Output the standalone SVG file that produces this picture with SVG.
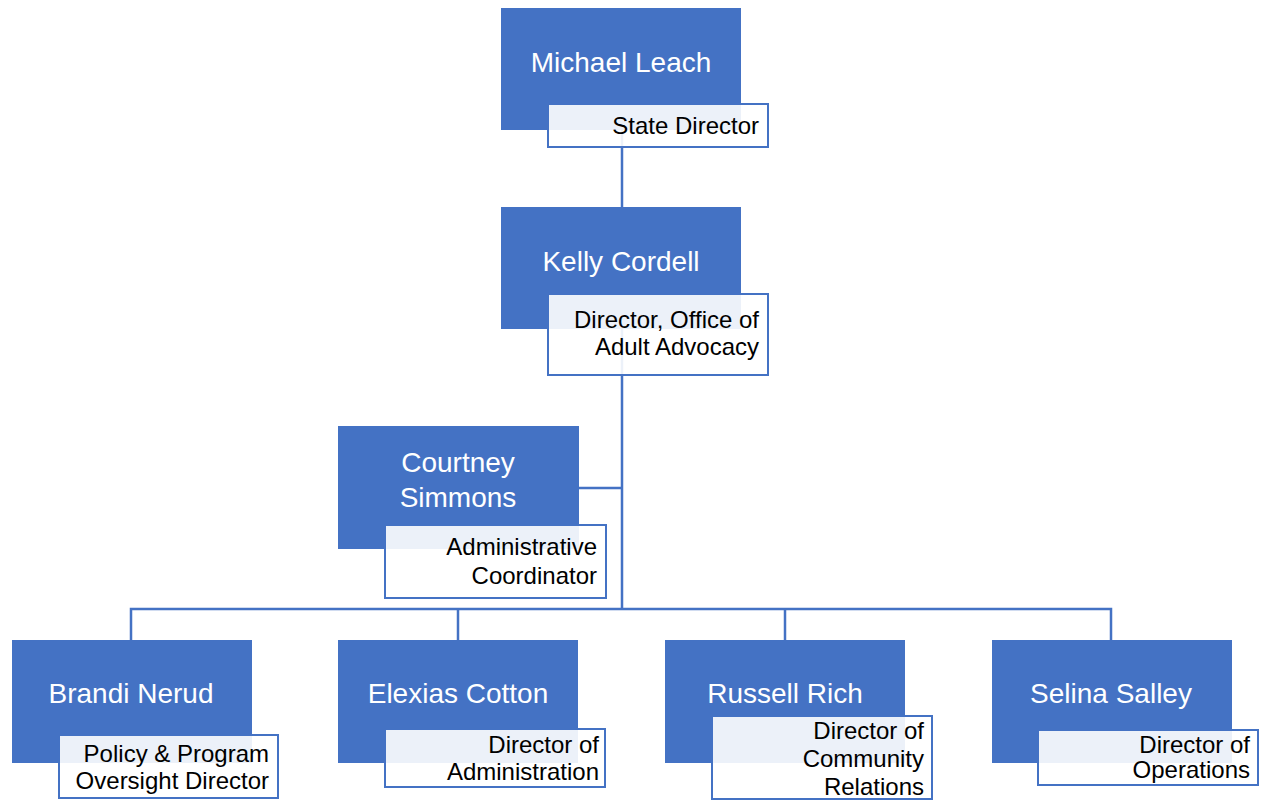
<svg xmlns="http://www.w3.org/2000/svg" width="1261" height="801" viewBox="0 0 1261 801">
<style>
.box{fill:#4472C4}
.lbl{fill:#FFFFFF;fill-opacity:0.9;stroke:#4472C4;stroke-width:2}
.name{font-family:"Liberation Sans",Arial,sans-serif;font-size:28px;fill:#FFFFFF;text-anchor:middle}
.title{font-family:"Liberation Sans",Arial,sans-serif;font-size:24px;fill:#000000;text-anchor:end}
.conn{stroke:#4472C4;stroke-width:2.5;fill:none}
</style>
<rect width="1261" height="801" fill="#FFFFFF"/>
<g id="connectors">
<line class="conn" x1="622" y1="130" x2="622" y2="207"/>
<line class="conn" x1="622" y1="329" x2="622" y2="609"/>
<line class="conn" x1="579" y1="488" x2="622" y2="488"/>
<polyline class="conn" points="131,640 131,609 1111,609 1111,640"/>
<line class="conn" x1="458" y1="609" x2="458" y2="640"/>
<line class="conn" x1="785" y1="609" x2="785" y2="640"/>
</g>
<g id="michael-leach">
<rect class="box" x="501" y="8" width="240" height="122"/>
<text class="name" x="621" y="72">Michael Leach</text>
<rect class="lbl" x="548" y="104" width="220" height="43"/>
<text class="title" x="759" y="134">State Director</text>
</g>
<g id="kelly-cordell">
<rect class="box" x="501" y="207" width="240" height="122"/>
<text class="name" x="621" y="271">Kelly Cordell</text>
<rect class="lbl" x="548" y="294" width="220" height="81"/>
<text class="title" x="759" y="328">Director, Office of</text>
<text class="title" x="759" y="355">Adult Advocacy</text>
</g>
<g id="courtney-simmons">
<rect class="box" x="338" y="426" width="241" height="123"/>
<text class="name" x="458" y="472">Courtney</text>
<text class="name" x="458" y="507">Simmons</text>
<rect class="lbl" x="385" y="525" width="221" height="73"/>
<text class="title" x="597" y="555">Administrative</text>
<text class="title" x="597" y="584">Coordinator</text>
</g>
<g id="brandi-nerud">
<rect class="box" x="12" y="640" width="240" height="123"/>
<text class="name" x="131" y="703">Brandi Nerud</text>
<rect class="lbl" x="59" y="735" width="219" height="63"/>
<text class="title" x="269" y="762">Policy &amp; Program</text>
<text class="title" x="269" y="789">Oversight Director</text>
</g>
<g id="elexias-cotton">
<rect class="box" x="338" y="640" width="240" height="123"/>
<text class="name" x="458" y="703">Elexias Cotton</text>
<rect class="lbl" x="385" y="729" width="220" height="58"/>
<text class="title" x="599" y="753">Director of</text>
<text class="title" x="599" y="780">Administration</text>
</g>
<g id="russell-rich">
<rect class="box" x="665" y="640" width="240" height="123"/>
<text class="name" x="785" y="703">Russell Rich</text>
<rect class="lbl" x="712" y="716" width="220" height="83"/>
<text class="title" x="924" y="739">Director of</text>
<text class="title" x="924" y="767">Community</text>
<text class="title" x="924" y="795">Relations</text>
</g>
<g id="selina-salley">
<rect class="box" x="992" y="640" width="240" height="123"/>
<text class="name" x="1111" y="703">Selina Salley</text>
<rect class="lbl" x="1038" y="730" width="220" height="55"/>
<text class="title" x="1250" y="753">Director of</text>
<text class="title" x="1250" y="778">Operations</text>
</g>
</svg>
